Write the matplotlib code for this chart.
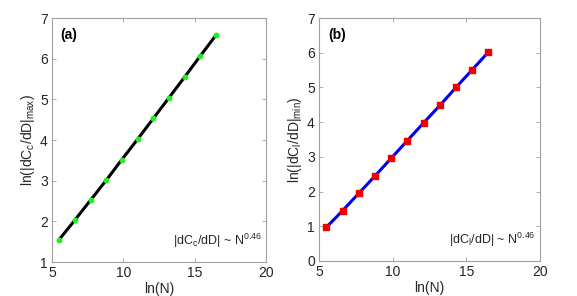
import matplotlib
matplotlib.use("Agg")
import matplotlib.pyplot as plt

plt.rcParams['font.family'] = ['Liberation Sans', 'DejaVu Sans']
plt.rcParams['mathtext.fontset'] = 'custom'
plt.rcParams['mathtext.rm'] = 'Liberation Sans'
plt.rcParams['mathtext.it'] = 'Liberation Sans'
plt.rcParams['mathtext.default'] = 'regular'

lnN = [5.5, 6.6, 7.7, 8.8, 9.9, 11.0, 12.1, 13.2, 14.3, 15.4, 16.5]
y_a = [1.55, 2.03, 2.52, 3.01, 3.52, 4.02, 4.53, 5.04, 5.55, 6.07, 6.58]
y_b = [0.97, 1.45, 1.95, 2.45, 2.96, 3.47, 3.98, 4.48, 5.00, 5.51, 6.02]
xticks = [5, 10, 15, 20]
yticks_a = [1, 2, 3, 4, 5, 6, 7]
yticks_b = [0, 1, 2, 3, 4, 5, 6, 7]

W, H = 577, 296
fig = plt.figure(figsize=(W/100, H/100), dpi=100)

def make_ax(l, r, t, b):
    return fig.add_axes([l/W, 1-b/H, (r-l)/W, (b-t)/H])

ax1 = make_ax(52, 266, 18, 262)
ax2 = make_ax(319, 540, 18, 261)

spine_c = '#a0a0a0'
text_c = '#262626'

for ax in (ax1, ax2):
    for s in ax.spines.values():
        s.set_color(spine_c)
        s.set_linewidth(0.8)
    ax.tick_params(direction='in', top=True, right=True, length=3, width=0.6,
                   color=spine_c, labelcolor=text_c, labelsize=10, pad=3)
    ax.set_xlim(5, 20)
    ax.set_xticks(xticks)
    ax.set_xlabel('ln(N)', fontsize=10, color=text_c, labelpad=1)

ax1.plot(lnN, y_a, color='black', lw=2.2, zorder=2)
ax1.plot(lnN, y_a, ls='none', marker='o', ms=3.2, color='#22ee22', mec='#22ee22', zorder=3)
ax1.set_ylim(1, 7)
ax1.set_yticks(yticks_a)
ax1.set_ylabel(r'ln(|dC$_{c}$/dD|$_{max}$)', fontsize=10, color=text_c, labelpad=2)
ax1.text(0.04, 0.93, '(a)', transform=ax1.transAxes, fontsize=10, fontweight='bold',
         va='center', ha='left', color='black')
ax1.text(0.98, 0.05, r'|dC$_{c}$/dD| ~ N$^{0.46}$', transform=ax1.transAxes, fontsize=9,
         va='bottom', ha='right', color=text_c)

ax2.plot(lnN, y_b, color='#0000ee', lw=2.2, zorder=2)
ax2.plot(lnN, y_b, ls='none', marker='s', ms=4, color='#ee0000', mec='#ee0000', zorder=3)
ax2.set_ylim(0, 7)
ax2.set_yticks(yticks_b)
ax2.set_ylabel(r'ln(|dC$_{l}$/dD|$_{min}$)', fontsize=10, color=text_c, labelpad=2)
ax2.text(0.04, 0.93, '(b)', transform=ax2.transAxes, fontsize=10, fontweight='bold',
         va='center', ha='left', color='black')
ax2.text(0.98, 0.05, r'|dC$_{l}$/dD| ~ N$^{0.46}$', transform=ax2.transAxes, fontsize=9,
         va='bottom', ha='right', color=text_c)

fig.savefig('out.png', dpi=100)
